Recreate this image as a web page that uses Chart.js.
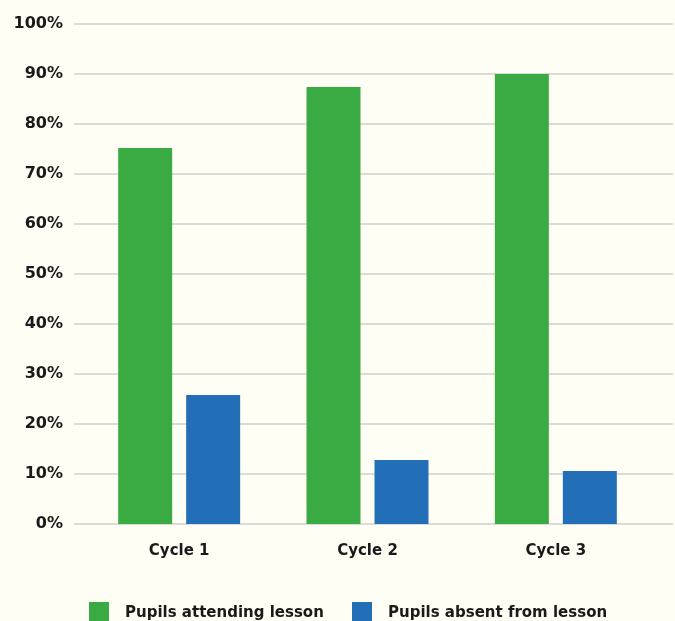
<!DOCTYPE html>
<html><head><meta charset="utf-8">
<script src="https://cdn.jsdelivr.net/npm/chart.js@4"></script>
<style>
html,body{margin:0;padding:0;background:#fefef5;}
#wrap{position:relative;width:675px;height:621px;overflow:hidden;background:#fefef5;}
#c{position:absolute;left:0;top:0;}
.item{position:absolute;top:601px;height:22px;display:flex;align-items:center;font:bold 15px "DejaVu Sans", sans-serif;color:#1a1a1a;white-space:nowrap;}
.sw{width:20px;height:20px;margin-right:16px;flex:none;}
</style></head>
<body>
<div id="wrap">
<canvas id="c" width="675" height="621"></canvas>
<div id="legend"></div>
</div>
<script>
const categories = ['Cycle 1', 'Cycle 2', 'Cycle 3'];
const seriesNames = ['Pupils attending lesson', 'Pupils absent from lesson'];
const attending = [75.2, 87.4, 90.0];
const absent = [25.8, 12.8, 10.6];
const yTickValues = [0, 10, 20, 30, 40, 50, 60, 70, 80, 90, 100];
const colors = ['#3aaa42', '#226eb7'];

const FONT = '"DejaVu Sans", sans-serif';
const TEXT = '#1a1a1a';

const gridPlugin = {
  id: 'extGrid',
  beforeDatasetsDraw(chart) {
    const y = chart.scales.y, a = chart.chartArea, ctx = chart.ctx;
    ctx.save();
    ctx.strokeStyle = '#d0d0cc';
    ctx.lineWidth = 1.5;
    y.ticks.forEach(t => {
      const py = y.getPixelForValue(t.value);
      ctx.beginPath();
      ctx.moveTo(a.left - 11, py);
      ctx.lineTo(a.right + 23, py);
      ctx.stroke();
    });
    ctx.restore();
  }
};

new Chart(document.getElementById('c'), {
  type: 'bar',
  data: {
    labels: categories,
    datasets: [
      {label: seriesNames[0], data: attending, backgroundColor: colors[0], categoryPercentage: 0.722, barPercentage: 0.794},
      {label: seriesNames[1], data: absent, backgroundColor: colors[1], categoryPercentage: 0.722, barPercentage: 0.794}
    ]
  },
  options: {
    responsive: false,
    animation: false,
    devicePixelRatio: 1,
    layout: {padding: {left: 0, right: 25, top: 24, bottom: 46}},
    plugins: {legend: {display: false}, tooltip: {enabled: false}},
    scales: {
      x: {
        grid: {display: false},
        border: {display: false},
        ticks: {color: TEXT, font: {family: FONT, size: 15, weight: 'bold'}, padding: 10},
        afterFit: s => { s.height = 51; s.paddingLeft = 0; s.paddingRight = 0; }
      },
      y: {
        min: 0, max: 100,
        grid: {display: false, drawTicks: false},
        border: {display: false},
        afterBuildTicks: s => { s.ticks = yTickValues.map(v => ({value: v})); },
        ticks: {color: TEXT, font: {family: FONT, size: 16, weight: 'bold'}, padding: 22, callback: v => v + '%'},
        afterFit: s => { s.width = 85; s.paddingTop = 0; s.paddingBottom = 0; }
      }
    }
  },
  plugins: [gridPlugin]
});

const legendPos = [89, 352];
const lg = document.getElementById('legend');
seriesNames.forEach((n, i) => {
  const d = document.createElement('div');
  d.className = 'item';
  d.style.left = legendPos[i] + 'px';
  d.innerHTML = '<span class="sw" style="background:' + colors[i] + '"></span><span>' + n + '</span>';
  lg.appendChild(d);
});
</script>
</body></html>
